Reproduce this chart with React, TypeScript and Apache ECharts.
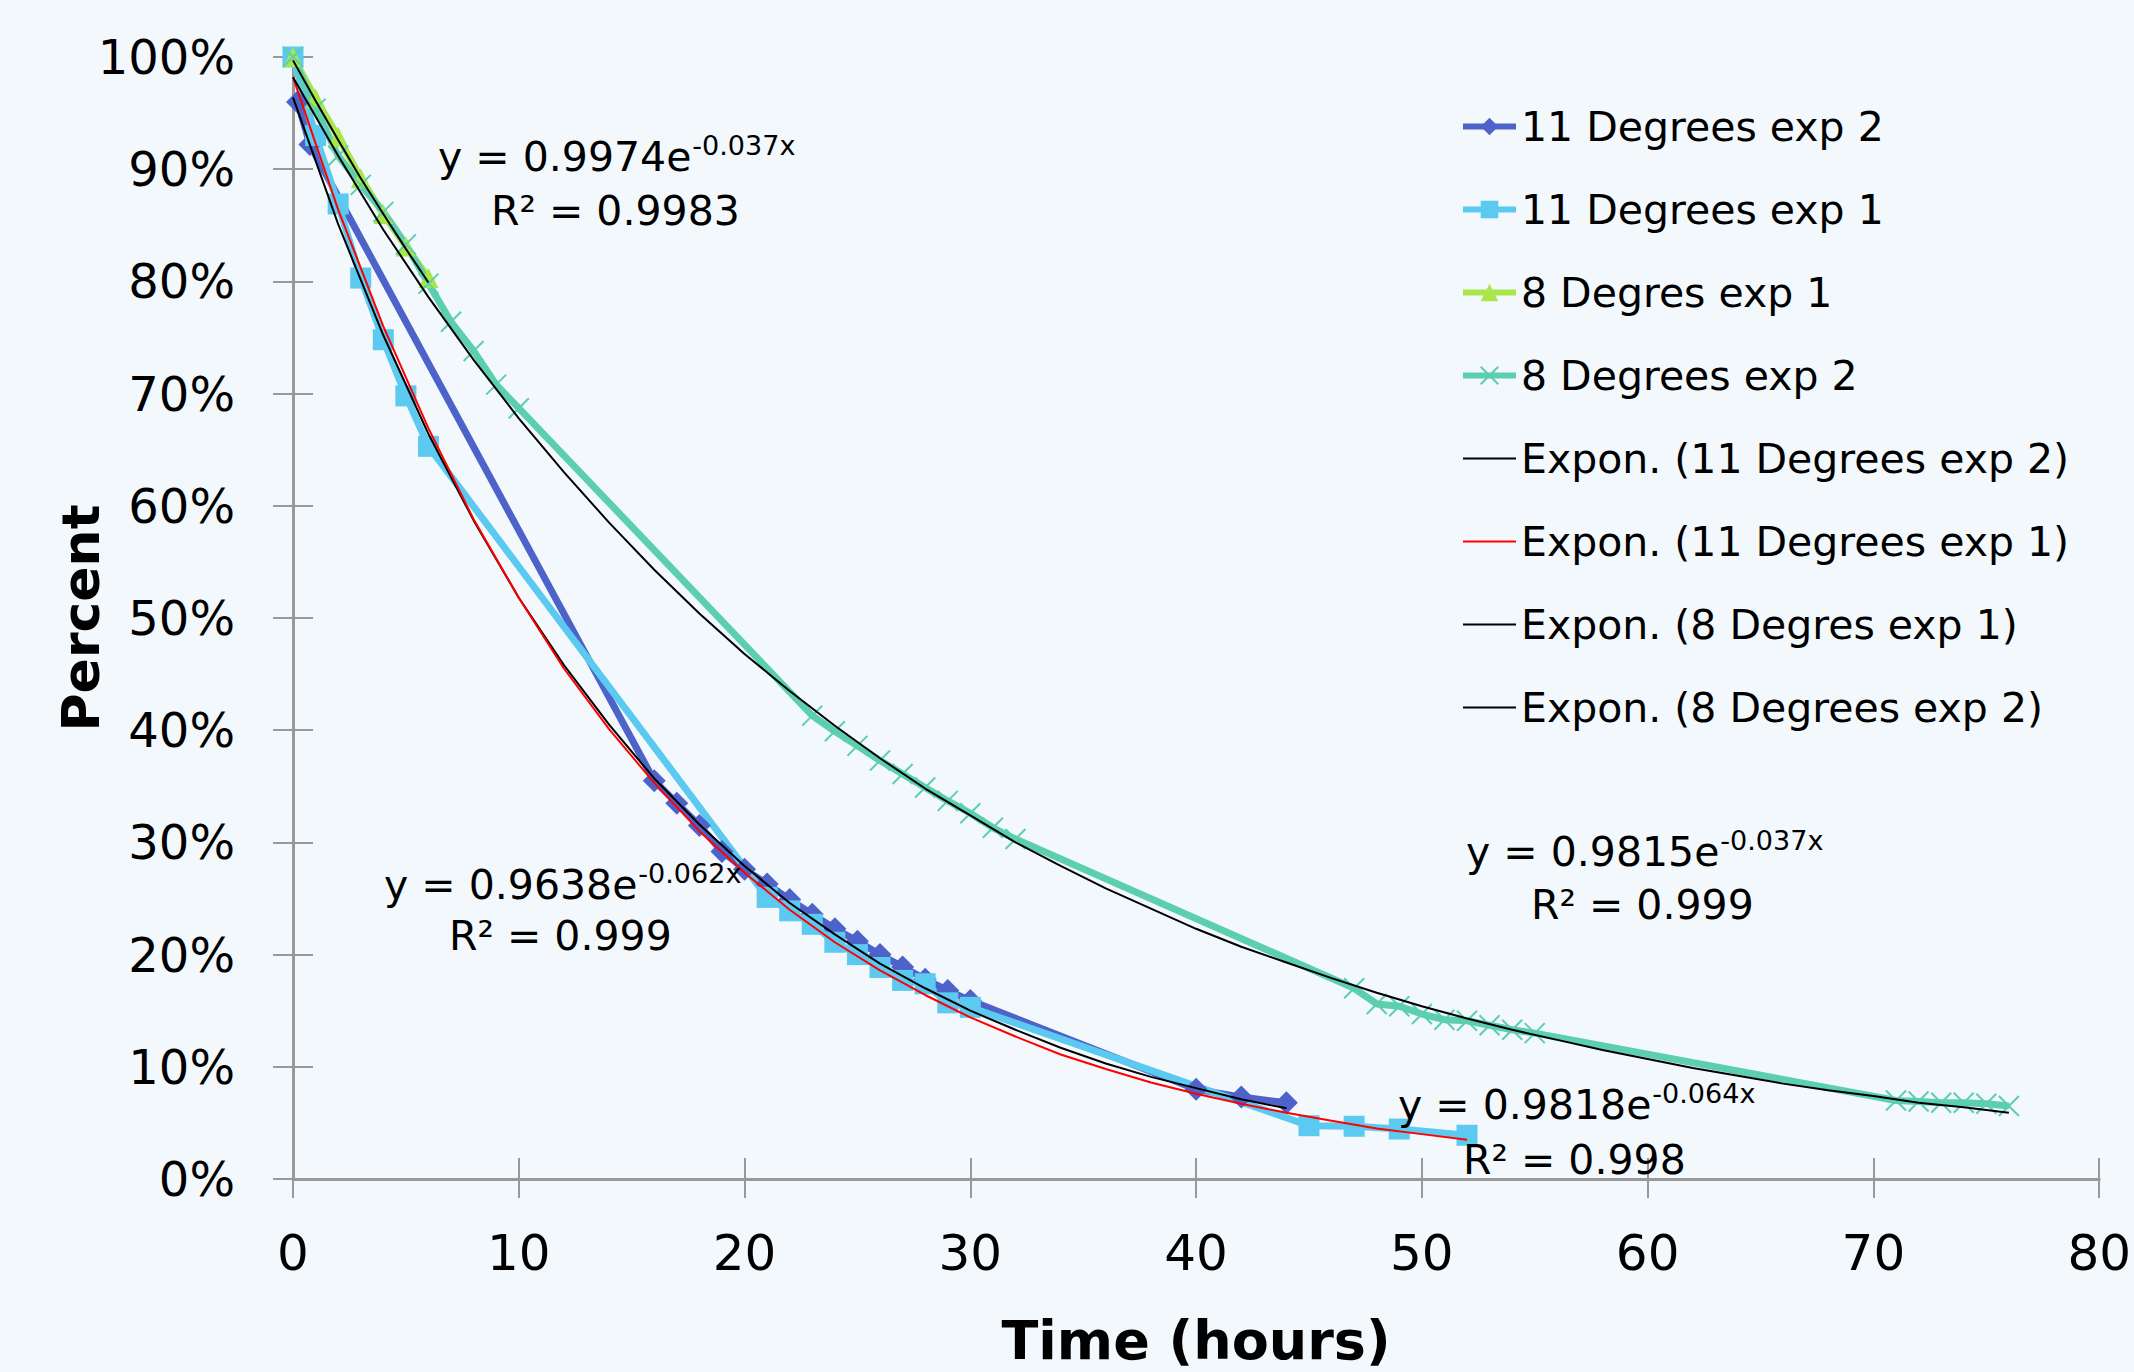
import React, { useEffect, useRef } from "react";
import * as echarts from "echarts";

// ---------- data ----------
const xTickValues = [0, 10, 20, 30, 40, 50, 60, 70, 80];
const yTickValues = [0, 10, 20, 30, 40, 50, 60, 70, 80, 90, 100];

const seriesNames = [
  "11 Degrees exp 2",
  "11 Degrees exp 1",
  "8 Degres exp 1",
  "8 Degrees exp 2",
  "Expon. (11 Degrees exp 2)",
  "Expon. (11 Degrees exp 1)",
  "Expon. (8 Degres exp 1)",
  "Expon. (8 Degrees exp 2)",
];

const h11e2 = [0.2, 0.75, 16, 17, 18, 19, 20, 21, 22, 23, 24, 25, 26, 27, 28, 29, 30, 40, 42, 44];
const v11e2 = [96.0, 92.2, 35.5, 33.5, 31.5, 29.2, 27.6, 26.3, 24.9, 23.6, 22.3, 21.2, 20.0, 18.9, 17.8, 16.8, 15.9, 8.0, 7.3, 6.8];

const h11e1 = [0, 1, 2, 3, 4, 5, 6, 21, 22, 23, 24, 25, 26, 27, 28, 29, 30, 45, 47, 49, 52];
const v11e1 = [100, 93, 86.9, 80.3, 74.8, 69.8, 65.3, 25.1, 23.9, 22.7, 21.1, 20.0, 18.85, 17.7, 17.4, 15.7, 15.3, 4.75, 4.7, 4.45, 3.9];

const h8e1 = [0, 1, 2, 3, 4, 5, 6];
const v8e1 = [100, 96.3, 92.9, 89.2, 86.0, 83.1, 80.3];

const h8e2 = [0, 1, 2, 3, 4, 5, 6, 7, 8, 9, 10, 23, 24, 25, 26, 27, 28, 29, 30, 31, 32, 47, 48, 49, 50, 51, 52, 53, 54, 55, 71, 72, 73, 74, 75, 76];
const v8e2 = [100, 95.4, 91.2, 88.6, 86.2, 83.3, 79.8, 76.4, 73.8, 70.8, 68.7, 41.3, 39.9, 38.6, 37.3, 36.1, 34.9, 33.7, 32.6, 31.3, 30.3, 17.0, 15.6, 15.4, 14.7, 14.2, 14.1, 13.7, 13.3, 13.0, 7.0, 6.9, 6.8, 6.8, 6.7, 6.5];

// trend lines, every 2 hours
const th11e2 = [0, 2, 4, 6, 8, 10, 12, 14, 16, 18, 20, 22, 24, 26, 28, 30, 32, 34, 36, 38, 40, 42, 44];
const tv11e2 = [96.4, 85.1, 75.2, 66.4, 58.7, 51.8, 45.8, 40.5, 35.7, 31.6, 27.9, 24.6, 21.8, 19.2, 17.0, 15.0, 13.3, 11.7, 10.3, 9.1, 8.1, 7.1, 6.3];

const th11e1 = [0, 2, 4, 6, 8, 10, 12, 14, 16, 18, 20, 22, 24, 26, 28, 30, 32, 34, 36, 38, 40, 42, 44, 46, 48, 50, 52];
const tv11e1 = [98.2, 86.4, 76.0, 66.9, 58.8, 51.8, 45.5, 40.1, 35.3, 31.0, 27.3, 24.0, 21.1, 18.6, 16.4, 14.4, 12.7, 11.1, 9.8, 8.6, 7.6, 6.7, 5.9, 5.2, 4.5, 4.0, 3.5];

const th8e1 = [0, 1, 2, 3, 4, 5, 6];
const tv8e1 = [99.7, 96.1, 92.6, 89.2, 86.0, 82.9, 79.9];

const th8e2 = [0, 2, 4, 6, 8, 10, 12, 14, 16, 18, 20, 22, 24, 26, 28, 30, 32, 34, 36, 38, 40, 42, 44, 46, 48, 50, 52, 54, 56, 58, 60, 62, 64, 66, 68, 70, 72, 74, 76];
const tv8e2 = [98.2, 91.2, 84.6, 78.6, 73.0, 67.8, 63.0, 58.5, 54.3, 50.4, 46.8, 43.5, 40.4, 37.5, 34.8, 32.4, 30.0, 27.9, 25.9, 24.1, 22.3, 20.7, 19.3, 17.9, 16.6, 15.4, 14.3, 13.3, 12.4, 11.5, 10.7, 9.9, 9.2, 8.5, 7.9, 7.4, 6.8, 6.4, 5.9];

const eqMain = ["y = 0.9974e", "y = 0.9638e", "y = 0.9815e", "y = 0.9818e"];
const eqSup = ["-0.037x", "-0.062x", "-0.037x", "-0.064x"];
const eqR2 = ["R² = 0.9983", "R² = 0.999", "R² = 0.999", "R² = 0.998"];

const zip = (xs: number[], ys: number[]) => xs.map((x, i) => [x, ys[i]]);

const FONT = "DejaVu Sans";
const C_11E2 = "#4d63c9";
const C_11E1 = "#5cc9f1";
const C_8E1 = "#a8e64c";
const C_8E2 = "#5ccfae";

const MAIN_SIZE = 41;
const SUP_SIZE = 27;

function measure(text: string, size: number): number {
  const c = document.createElement("canvas").getContext("2d");
  if (!c) return text.length * size * 0.6;
  c.font = `${size}px "${FONT}"`;
  return c.measureText(text).width;
}

export default function App() {
  const ref = useRef<HTMLDivElement>(null);

  useEffect(() => {
    document.body.style.margin = "0";
    const chart = echarts.init(ref.current!, undefined, { renderer: "svg" });

    const dataSeries = (name: string, xs: number[], ys: number[], color: string, symbol: string, size: number | number[], extra: any = {}) => ({
      name,
      type: "line",
      data: zip(xs, ys),
      symbol,
      symbolSize: size,
      showSymbol: true,
      lineStyle: { color, width: 7 },
      itemStyle: { color, ...(extra.itemStyle || {}) },
      z: 2,
      emphasis: { disabled: true },
    });

    const trendSeries = (name: string, xs: number[], ys: number[], color: string) => ({
      name,
      type: "line",
      data: zip(xs, ys),
      symbol: "none",
      lineStyle: { color, width: 2 },
      itemStyle: { color },
      z: 5,
      emphasis: { disabled: true },
    });

    const eqGraphic = (idx: number, ex: number, ey: number, rx: number, ry: number) => {
      const w = measure(eqMain[idx], MAIN_SIZE);
      return [
        {
          type: "text",
          x: ex,
          y: ey,
          z: 100,
          style: { text: eqMain[idx], align: "left", verticalAlign: "middle", fontFamily: FONT, fontSize: MAIN_SIZE, fill: "#000" },
        },
        {
          type: "text",
          x: ex + w + 1,
          y: ey - 12,
          z: 100,
          style: { text: eqSup[idx], align: "left", verticalAlign: "middle", fontFamily: FONT, fontSize: SUP_SIZE, fill: "#000" },
        },
        {
          type: "text",
          x: rx,
          y: ry,
          z: 100,
          style: { text: eqR2[idx], align: "left", verticalAlign: "middle", fontFamily: FONT, fontSize: MAIN_SIZE, fill: "#000" },
        },
      ];
    };

    const xBase = { type: "value", min: 0, max: 80, interval: 10, gridIndex: 0, splitLine: { show: false } };
    const yBase = { type: "value", min: 0, max: 100, interval: 10, gridIndex: 0, splitLine: { show: false } };

    chart.setOption({
      animation: false,
      backgroundColor: "#f3f8fd",
      grid: { left: 293, right: 27, top: 57, bottom: 192, containLabel: false },
      legend: {
        data: seriesNames.map((n, i) =>
          i < 4
            ? { name: n, lineStyle: { width: 6 } }
            : { name: n, lineStyle: { width: 2 }, itemStyle: { opacity: 0 } }
        ),
        orient: "vertical",
        left: 1455,
        top: 101,
        itemWidth: 53,
        itemHeight: 22,
        itemGap: 42,
        textStyle: { fontFamily: FONT, fontSize: 41, color: "#000" },
        selectedMode: false,
      },
      xAxis: [
        {
          ...xBase,
          position: "bottom",
          name: "Time (hours)",
          nameLocation: "middle",
          nameGap: 134,
          nameTextStyle: { fontFamily: FONT, fontSize: 54, fontWeight: "bold", color: "#000" },
          axisLine: { show: true, onZero: false, lineStyle: { color: "#999999", width: 3 } },
          axisTick: { show: true, inside: false, length: 19, lineStyle: { color: "#999999", width: 2 } },
          axisLabel: { show: true, margin: 49, fontFamily: FONT, fontSize: 50, color: "#000", customValues: xTickValues },
        },
        {
          ...xBase,
          position: "bottom",
          axisLine: { show: false },
          axisTick: { show: true, inside: true, length: 21, lineStyle: { color: "#999999", width: 2 } },
          axisLabel: { show: false },
        },
      ],
      yAxis: [
        {
          ...yBase,
          position: "left",
          name: "Percent",
          nameLocation: "middle",
          nameRotate: 90,
          nameGap: 186,
          nameMoveOverlap: false,
          nameTextStyle: { fontFamily: FONT, fontSize: 52, fontWeight: "bold", color: "#000" },
          axisLine: { show: true, onZero: false, lineStyle: { color: "#999999", width: 3 } },
          axisTick: { show: true, inside: false, length: 20, lineStyle: { color: "#999999", width: 2 } },
          axisLabel: {
            show: true,
            margin: 58,
            fontFamily: FONT,
            fontSize: 48,
            color: "#000",
            formatter: (v: number) => `${v}%`,
            customValues: yTickValues,
          },
        },
        {
          ...yBase,
          position: "left",
          axisLine: { show: false },
          axisTick: { show: true, inside: true, length: 20, lineStyle: { color: "#999999", width: 2 } },
          axisLabel: { show: false },
        },
      ],
      series: [
        dataSeries(seriesNames[0], h11e2, v11e2, C_11E2, "diamond", [23, 23]),
        dataSeries(seriesNames[1], h11e1, v11e1, C_11E1, "rect", 21),
        dataSeries(seriesNames[2], h8e1, v8e1, C_8E1, "triangle", 20),
        dataSeries(seriesNames[3], h8e2, v8e2, C_8E2, "path://M0,0L10,10M10,0L0,10", 20, {
          itemStyle: { borderColor: C_8E2, borderWidth: 2 },
        }),
        trendSeries(seriesNames[4], th11e2, tv11e2, "#000000"),
        trendSeries(seriesNames[5], th11e1, tv11e1, "#ff0000"),
        trendSeries(seriesNames[6], th8e1, tv8e1, "#000000"),
        trendSeries(seriesNames[7], th8e2, tv8e2, "#000000"),
      ],
      graphic: [
        ...eqGraphic(0, 438, 157, 491, 211),
        ...eqGraphic(1, 384, 885, 449, 936),
        ...eqGraphic(2, 1466, 852, 1531, 905),
        ...eqGraphic(3, 1398, 1105, 1463, 1160),
      ],
    });

    return () => chart.dispose();
  }, []);

  return <div ref={ref} style={{ position: "fixed", left: 0, top: 0, width: 2134, height: 1372 }} />;
}
